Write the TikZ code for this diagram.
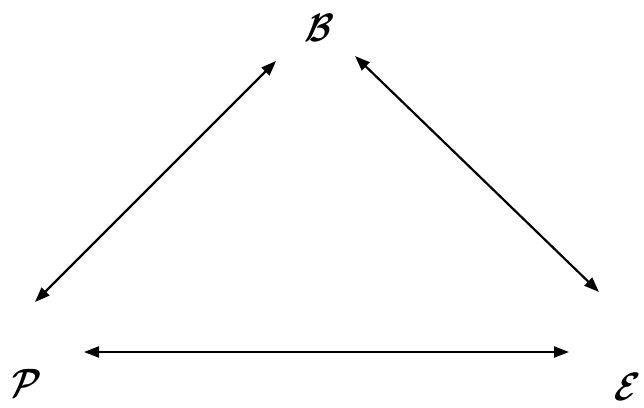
\documentclass[tikz,border=0pt]{standalone}
\usetikzlibrary{arrows.meta}
\newcommand{\boldcal}[1]{{\boldmath$\mathcal{#1}$}}
\tikzset{
  letter/.style={inner sep=0pt, xscale=2.7, yscale=3.3, xslant=0.25, font=\fontsize{12}{14}\selectfont},
  dblarrow/.style={line width=2.2pt, {Triangle[length=15pt,width=11pt]}-{Triangle[length=15pt,width=11pt]}}
}
\begin{document}
\begin{tikzpicture}[x=1pt,y=-1pt]
\useasboundingbox (0,0) rectangle (644,407);
\node[letter] (B) at (320,28) {\boldcal{B}};
\node[letter] (P) at (26,383) {\boldcal{P}};
\node[letter] (E) at (627,387) {\boldcal{E}};
\coordinate (pb1) at (35,302);
\coordinate (pb2) at (276,61);
\coordinate (be1) at (355,56);
\coordinate (be2) at (599,292);
\coordinate (pe1) at (84,352);
\coordinate (pe2) at (569,352);
\draw[dblarrow] (pb1) -- (pb2);
\draw[dblarrow] (be1) -- (be2);
\draw[dblarrow] (pe1) -- (pe2);
\end{tikzpicture}
\end{document}
